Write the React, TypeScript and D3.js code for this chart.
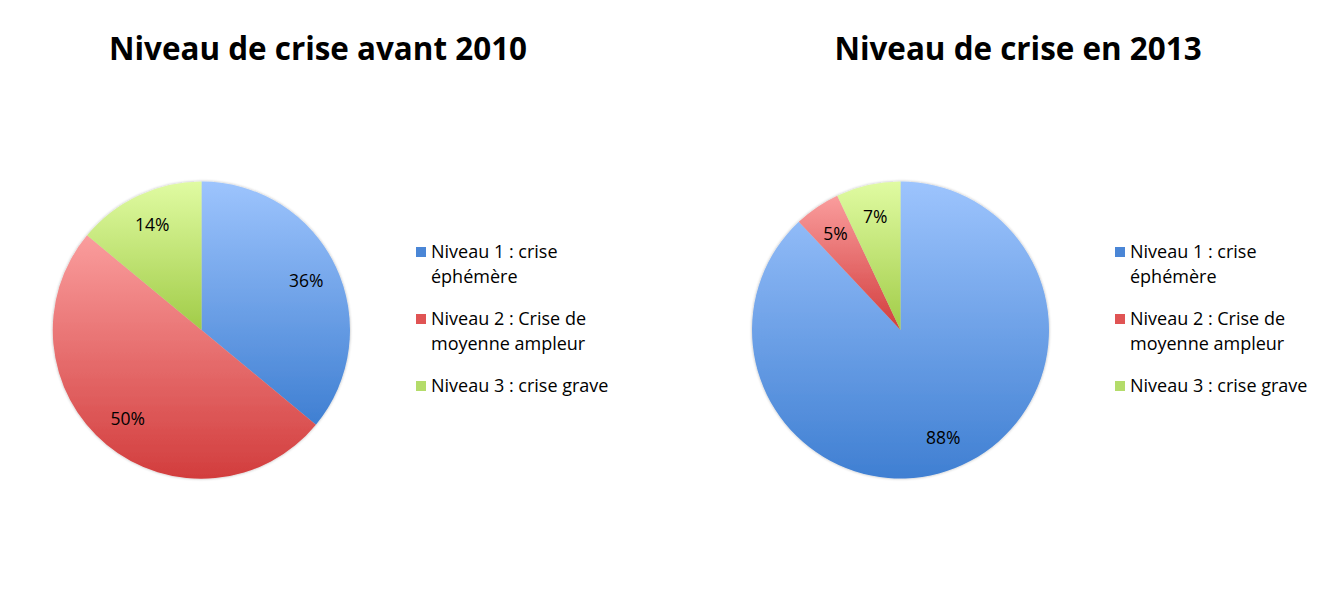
import React from "react";
import * as d3 from "d3";

const categories = [
  "Niveau 1 : crise éphémère",
  "Niveau 2 : Crise de moyenne ampleur",
  "Niveau 3 : crise grave",
];
const legendLines = [
  ["Niveau 1 : crise", "éphémère"],
  ["Niveau 2 : Crise de", "moyenne ampleur"],
  ["Niveau 3 : crise grave"],
];
const valuesBefore2010 = [36, 50, 14];
const values2013 = [88, 5, 7];
const titles = ["Niveau de crise avant 2010", "Niveau de crise en 2013"];

const gradStops = [
  ["#9dc4fd", "#3f7fd2"],
  ["#fa9d9d", "#d23d3d"],
  ["#e0fba2", "#a1cc48"],
];
const legendColors = ["#4a86d6", "#e05454", "#b4dc6a"];

const FONT = "'Open Sans', 'Liberation Sans', sans-serif";

function Pie({ id, cx, cy, r, values, title, titleX, legendX }: any) {
  const pie = d3.pie<number>().sort(null).value((d) => d);
  const arcs = pie(values);
  const arc = d3.arc<d3.PieArcDatum<number>>().innerRadius(0).outerRadius(r);
  const labelArc = d3.arc<d3.PieArcDatum<number>>().innerRadius(r * 0.78).outerRadius(r * 0.78);
  let ly = 252;
  const entries = legendLines.map((lines, i) => {
    const y0 = ly;
    ly += lines.length * 25 + 17;
    return { lines, y0, i };
  });
  return (
    <g>
      <defs>
        {gradStops.map((s, i) => (
          <linearGradient key={i} id={`${id}-g${i}`} x1="0" y1="0" x2="0" y2="1">
            <stop offset="0" stopColor={s[0]} />
            <stop offset="1" stopColor={s[1]} />
          </linearGradient>
        ))}
        <filter id={`${id}-sh`} x="-10%" y="-10%" width="120%" height="120%">
          <feGaussianBlur in="SourceAlpha" stdDeviation="1.5" />
          <feComponentTransfer>
            <feFuncA type="linear" slope="0.3" />
          </feComponentTransfer>
          <feMerge>
            <feMergeNode />
            <feMergeNode in="SourceGraphic" />
          </feMerge>
        </filter>
      </defs>
      <text
        x={titleX}
        y={60}
        textAnchor="middle"
        fontFamily={FONT}
        fontWeight="bold"
        fontSize={31.4}
        fill="#000"
      >
        {title}
      </text>
      <g transform={`translate(${cx},${cy})`} filter={`url(#${id}-sh)`}>
        {arcs.map((a, i) => (
          <path key={i} d={arc(a) || ""} fill={`url(#${id}-g${i})`} />
        ))}
      </g>
      <g transform={`translate(${cx},${cy})`}>
        {arcs.map((a, i) => {
          const [x, y] = labelArc.centroid(a);
          return (
            <text
              key={i}
              x={x}
              y={y}
              dy="0.35em"
              textAnchor="middle"
              fontFamily={FONT}
              fontSize={17.5}
              fill="#000"
            >
              {`${values[i]}%`}
            </text>
          );
        })}
      </g>
      <g>
        {entries.map((e) => (
          <g key={e.i}>
            <rect x={legendX} y={e.y0 - 5} width={10} height={10} fill={legendColors[e.i]} />
            {e.lines.map((l, j) => (
              <text
                key={j}
                x={legendX + 15}
                y={e.y0 + j * 25}
                dy="0.35em"
                fontFamily={FONT}
                fontSize={18}
                fill="#000"
              >
                {l}
              </text>
            ))}
          </g>
        ))}
      </g>
    </g>
  );
}

export default function App() {
  return (
    <svg
      width={1339}
      height={593}
      style={{ position: "absolute", left: 0, top: 0, background: "#fff" }}
    >
      <rect width={1339} height={593} fill="#fff" />
      <Pie
        id="p1"
        cx={201.5}
        cy={330}
        r={148.5}
        values={valuesBefore2010}
        title={titles[0]}
        titleX={318}
        legendX={416}
      />
      <Pie
        id="p2"
        cx={900.5}
        cy={330}
        r={148.5}
        values={values2013}
        title={titles[1]}
        titleX={1018}
        legendX={1115}
      />
    </svg>
  );
}
